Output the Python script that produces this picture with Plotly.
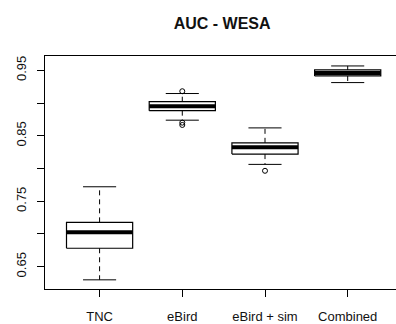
import plotly.graph_objects as go

categories = ["TNC", "eBird", "eBird + sim", "Combined"]
lower_whisker = [0.630, 0.8738, 0.8063, 0.9312]
q1 = [0.6782, 0.8883, 0.8220, 0.9413]
median = [0.7026, 0.8950, 0.8326, 0.9460]
q3 = [0.7178, 0.9020, 0.8392, 0.9505]
upper_whisker = [0.7721, 0.9145, 0.8620, 0.9566]
outliers = [[], [0.9180, 0.8700, 0.8665], [0.7965], []]

y_tick_values = [0.65, 0.70, 0.75, 0.80, 0.85, 0.90, 0.95]
y_tick_labels = ["0.65", "", "0.75", "", "0.85", "", "0.95"]

HALF = 0.4
CAP = 0.2
positions = list(range(1, len(categories) + 1))

bx, by, mx, my, wx, wy, cx, cy, ox, oy = [], [], [], [], [], [], [], [], [], []
for i, p in enumerate(positions):
    bx += [p - HALF, p + HALF, p + HALF, p - HALF, p - HALF, None]
    by += [q1[i], q1[i], q3[i], q3[i], q1[i], None]
    mx += [p - HALF, p + HALF, None]
    my += [median[i], median[i], None]
    wx += [p, p, None, p, p, None]
    wy += [q3[i], upper_whisker[i], None, q1[i], lower_whisker[i], None]
    cx += [p - CAP, p + CAP, None, p - CAP, p + CAP, None]
    cy += [upper_whisker[i], upper_whisker[i], None, lower_whisker[i], lower_whisker[i], None]
    for v in outliers[i]:
        ox.append(p)
        oy.append(v)

fig = go.Figure()
fig.add_trace(go.Scatter(x=wx, y=wy, mode="lines", line=dict(color="black", width=1, dash="5px,4px"), hoverinfo="skip"))
fig.add_trace(go.Scatter(x=cx, y=cy, mode="lines", line=dict(color="black", width=1), hoverinfo="skip"))
fig.add_trace(go.Scatter(x=bx, y=by, mode="lines", line=dict(color="black", width=1.2), fill=None, hoverinfo="skip"))
fig.add_trace(go.Scatter(x=mx, y=my, mode="lines", line=dict(color="black", width=4), hoverinfo="skip"))
fig.add_trace(go.Scatter(x=ox, y=oy, mode="markers",
                         marker=dict(symbol="circle-open", size=5, color="black", line=dict(width=1)),
                         hoverinfo="skip"))

font = "Liberation Sans, Arial, sans-serif"
fig.update_layout(
    width=396, height=324,
    margin=dict(l=45, r=0, t=56, b=35),
    paper_bgcolor="white", plot_bgcolor="white",
    showlegend=False,
    font=dict(family=font, size=13, color="#111"),
    title=dict(text="<b>AUC - WESA</b>", font=dict(family=font, size=16, color="#111"),
               xref="container", x=0.561, xanchor="center",
               yref="container", y=1 - 23.5 / 324, yanchor="middle"),
    xaxis=dict(range=[0.34, 4.584], tickvals=positions, ticktext=categories,
               ticks="outside", ticklen=7, tickcolor="black", tickwidth=1,
               showline=True, mirror=True, linecolor="black", linewidth=1,
               showgrid=False, zeroline=False, ticklabelstandoff=8),
    yaxis=dict(range=[0.616, 0.9718], tickvals=y_tick_values, ticktext=y_tick_labels,
               tickangle=-90, ticks="outside", ticklen=7, tickcolor="black", tickwidth=1,
               showline=True, mirror=False, linecolor="black", linewidth=1,
               showgrid=False, zeroline=False, ticklabelstandoff=6),
)

fig.write_html("out.html")
